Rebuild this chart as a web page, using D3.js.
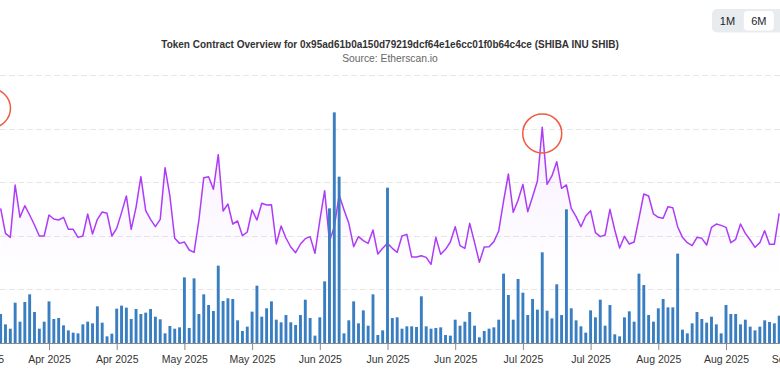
<!DOCTYPE html>
<html><head><meta charset="utf-8">
<script src="https://cdn.jsdelivr.net/npm/d3@7/dist/d3.min.js"></script>
<style>
html,body{margin:0;padding:0;background:#fff;}
svg{display:block;font-family:"Liberation Sans",Arial,Helvetica,sans-serif;}
</style></head>
<body><svg id="chart" width="780" height="374"></svg>
<script>
// ---- data (daily, starting 2025-03-27) ----
const startDate = "2025-03-27";
const barValues = [
54.1,34.8,26.7,75.2,39.8,76.5,90.8,57.8,26.7,39.8,77.7,44.8,46.6,33.0,23.6,19.3,18.0,34.8,39.8,36.7,
68.4,37.9,12.4,17.4,64.1,69.7,65.9,44.8,63.4,54.1,56.6,63.4,49.1,44.2,18.0,31.7,26.7,29.2,122.5,28.0,
120.6,54.1,90.8,70.9,59.7,144.3,78.4,83.3,82.1,42.3,22.4,30.5,58.5,107.0,49.1,64.7,77.7,43.5,38.6,52.2,
38.6,33.6,52.2,80.8,46.6,13.7,47.9,115.0,251.2,430.3,310.3,18.0,42.3,77.7,36.7,60.9,32.3,90.8,14.9,23.6,
289.8,46.6,47.9,26.7,31.1,31.1,29.9,87.1,31.1,26.7,28.0,29.2,14.9,13.7,43.5,32.3,39.8,57.8,32.3,10.6,
22.4,26.7,29.2,43.5,129.4,89.6,43.5,119.4,93.9,52.2,82.1,62.2,169.2,60.3,46.0,109.5,52.2,249.4,64.7,42.3,
31.1,19.3,60.9,47.9,80.8,32.3,70.9,16.2,12.4,47.9,59.1,39.8,129.4,108.2,52.2,39.8,64.7,82.1,66.5,66.5,
166.7,24.9,18.0,36.7,57.8,44.8,37.9,49.1,34.8,18.0,70.9,54.1,54.1,34.8,43.5,30.5,23.6,30.5,42.3,39.2,
36.7,51.0
];
const lineValues = [
251.2,204.6,197.1,294.8,234.5,256.2,238.8,220.1,199.6,199.6,238.8,231.3,229.5,234.5,212.1,212.1,197.1,199.6,240.7,203.4,
230.7,244.4,241.9,199.6,213.9,243.2,274.3,212.1,253.1,310.3,246.9,230.7,217.0,230.7,327.1,274.3,195.3,185.9,188.4,173.5,
169.2,229.5,308.5,310.3,286.7,351.4,246.3,259.3,222.0,227.6,200.2,207.1,248.1,229.5,260.6,257.5,258.1,184.7,218.3,195.9,
179.1,168.5,184.7,194.7,198.4,167.3,228.2,284.2,189.7,217.0,276.1,248.8,223.3,179.7,198.4,190.9,185.9,210.8,166.0,176.6,
185.9,176.6,169.2,199.6,202.7,160.4,160.4,162.9,159.8,146.8,197.1,165.4,174.8,188.4,217.0,181.6,176.6,223.3,187.8,150.5,
179.1,179.7,189.1,209.0,264.9,315.3,243.8,266.2,296.0,245.0,273.0,302.2,402.4,296.0,311.6,338.3,288.6,294.8,251.2,235.7,
217.0,236.9,246.9,205.8,198.4,201.5,249.4,210.8,177.2,199.0,184.7,188.4,232.6,278.0,274.3,240.7,234.5,232.6,254.4,252.5,
217.0,197.1,187.2,181.6,197.1,195.3,182.8,215.8,222.0,219.5,215.8,187.2,193.4,222.0,204.6,192.2,178.5,187.2,209.6,184.1,
184.1,241.9
];
const tickDates = ["2025-03-23","2025-04-06","2025-04-20","2025-05-04","2025-05-18","2025-06-01","2025-06-15","2025-06-29","2025-07-13","2025-07-27","2025-08-10","2025-08-24","2025-09-07"];
const gridValues = [100,200,300,400,500];
const annotations = [{date:"2025-03-25", value:438}, {date:"2025-07-17", value:391}];
const titleText = "Token Contract Overview for 0x95ad61b0a150d79219dcf64e1e6cc01f0b64c4ce (SHIBA INU SHIB)";
const subtitleText = "Source: Etherscan.io";
const rangeButtons = ["1M","6M"];
const selectedRange = "6M";

// ---- build ----
const parse = d3.utcParse("%Y-%m-%d");
const t0 = parse(startDate);
const barData = barValues.map((v,i)=>({date:d3.utcDay.offset(t0,i), v}));
const lineData = lineValues.map((v,i)=>({date:d3.utcDay.offset(t0,i), v}));

const svg = d3.select("#chart");
const x = d3.scaleUtc().domain([parse("2025-04-06"), parse("2025-08-24")]).range([49, 726]);
const y = d3.scaleLinear().domain([0, 500]).range([343, 75]);

const defs = svg.append("defs");
const grad = defs.append("linearGradient").attr("id","areaGrad")
  .attr("gradientUnits","userSpaceOnUse").attr("x1",0).attr("x2",0).attr("y1",y(400)).attr("y2",y(120));
grad.append("stop").attr("offset","0").attr("stop-color","#b04cff").attr("stop-opacity",0.09);
grad.append("stop").attr("offset","1").attr("stop-color","#b04cff").attr("stop-opacity",0);

// grid
svg.append("g").selectAll("line").data(gridValues).join("line")
  .attr("x1",0).attr("x2",780).attr("y1",d=>Math.round(y(d))+0.5).attr("y2",d=>Math.round(y(d))+0.5)
  .attr("stroke","#e6e6e6").attr("stroke-width",1).attr("stroke-dasharray","6,3");

// area + line
const area = d3.area().x(d=>x(d.date)).y0(y(120)).y1(d=>y(d.v));
svg.append("path").datum(lineData).attr("d",area).attr("fill","url(#areaGrad)");
const line = d3.line().x(d=>x(d.date)).y(d=>y(d.v));
svg.append("path").datum(lineData).attr("d",line).attr("fill","none")
  .attr("stroke","#ad3cf7").attr("stroke-width",1.5).attr("stroke-linejoin","round");

// bars
const bw = 2.9;
svg.append("g").selectAll("rect").data(barData).join("rect")
  .attr("x",d=>x(d.date)-bw/2).attr("width",bw)
  .attr("y",d=>y(d.v)).attr("height",d=>y(0)-y(d.v))
  .attr("fill","#3a7ec2");

// x axis
const xAxis = d3.axisBottom(x).tickValues(tickDates.map(parse)).tickFormat(d3.utcFormat("%b %Y")).tickSize(7).tickPadding(6);
const gx = svg.append("g").attr("transform","translate(0,343)").call(xAxis);
gx.select(".domain").attr("stroke","#8a8a8a").attr("d","M0,0.5H780");
gx.selectAll(".tick line").attr("stroke","#8a8a8a");
gx.selectAll(".tick text").attr("fill","#333").style("font-size","10.5px").style("font-family","'Liberation Sans',Arial,sans-serif");

// annotations
svg.append("g").selectAll("circle").data(annotations).join("circle")
  .attr("cx",d=>x(parse(d.date))).attr("cy",d=>y(d.value)).attr("r",19.5)
  .attr("fill","none").attr("stroke","#ef5a3c").attr("stroke-width",1.5);

// titles
svg.append("text").attr("x",390).attr("y",48).attr("text-anchor","middle")
  .attr("fill","#333").style("font-size","10px").style("font-weight","bold").text(titleText);
svg.append("text").attr("x",390).attr("y",62).attr("text-anchor","middle")
  .attr("fill","#666").style("font-size","10.3px").text(subtitleText);

// range buttons
const bg = svg.append("g");
bg.append("rect").attr("x",712).attr("y",9).attr("width",80).attr("height",23.5).attr("rx",5).attr("fill","#e9ecef");
rangeButtons.forEach((b,i)=>{
  const cx = 727.5 + i*31.3;
  if (b===selectedRange) bg.append("rect").attr("x",cx-15).attr("y",11).attr("width",30).attr("height",19.5).attr("rx",4).attr("fill","#fff");
  bg.append("text").attr("x",cx).attr("y",24.5).attr("text-anchor","middle").attr("fill","#212529")
    .style("font-size","11px").text(b);
});
</script></body></html>
